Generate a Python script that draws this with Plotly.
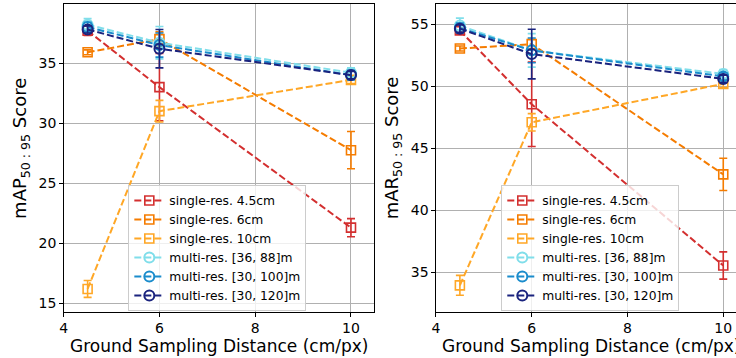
import plotly.graph_objects as go

gsd = [4.5, 6, 10]
x_ticks = [4, 6, 8, 10]

series_names = ["single-res. 4.5cm", "single-res. 6cm", "single-res. 10cm",
                "multi-res. [36, 88]m", "multi-res. [30, 100]m", "multi-res. [30, 120]m"]
series_colors = ["#d32f2f", "#f57c00", "#ffa726", "#80deea", "#1a8ccc", "#1a237e"]
series_symbols = ["square-open", "square-open", "square-open",
                  "circle-open", "circle-open", "circle-open"]

# mAP 50:95 (left)
map_red = [37.7, 33.0, 21.3]
map_red_err = [0.4, 2.8, 0.75]
map_orange = [35.9, 37.0, 27.75]
map_orange_err = [0.2, 0.6, 1.55]
map_yellow = [16.2, 31.0, 33.6]
map_yellow_err = [0.7, 0.9, 0.3]
map_cyan = [38.2, 36.7, 34.2]
map_cyan_err = [0.5, 1.35, 0.4]
map_blue = [38.0, 36.5, 34.0]
map_blue_err = [0.4, 1.0, 0.4]
map_navy = [37.8, 36.2, 34.0]
map_navy_err = [0.3, 1.6, 0.3]

# mAR 50:95 (right)
mar_red = [54.5, 48.55, 35.55]
mar_red_err = [0.3, 3.4, 1.1]
mar_orange = [53.05, 53.4, 42.9]
mar_orange_err = [0.2, 0.4, 1.3]
mar_yellow = [33.95, 47.1, 50.2]
mar_yellow_err = [0.8, 0.7, 0.3]
mar_cyan = [54.9, 52.9, 51.0]
mar_cyan_err = [0.6, 1.35, 0.35]
mar_blue = [54.7, 52.9, 50.8]
mar_blue_err = [0.4, 1.0, 0.3]
mar_navy = [54.65, 52.6, 50.6]
mar_navy_err = [0.3, 2.0, 0.3]

map_vals = [map_red, map_orange, map_yellow, map_cyan, map_blue, map_navy]
map_errs = [map_red_err, map_orange_err, map_yellow_err, map_cyan_err, map_blue_err, map_navy_err]
mar_vals = [mar_red, mar_orange, mar_yellow, mar_cyan, mar_blue, mar_navy]
mar_errs = [mar_red_err, mar_orange_err, mar_yellow_err, mar_cyan_err, mar_blue_err, mar_navy_err]

FONT = "DejaVu Sans"
W, H = 736, 358
fig = go.Figure()

for panel, (vals, errs, xa, ya, lg) in enumerate([
        (map_vals, map_errs, "x", "y", "legend"),
        (mar_vals, mar_errs, "x2", "y2", "legend2")]):
    for i, name in enumerate(series_names):
        c = series_colors[i]
        is_circle = "circle" in series_symbols[i]
        fig.add_trace(go.Scatter(
            x=gsd, y=vals[i], name=name, xaxis=xa, yaxis=ya, legend=lg,
            mode="lines+markers",
            line=dict(color=c, width=2, dash="7px,3px"),
            marker=dict(symbol=series_symbols[i], size=10 if is_circle else 9,
                        color=c, line=dict(color=c, width=2 if is_circle else 1.6)),
            error_y=dict(type="data", array=errs[i], color=c, thickness=1.6, width=4),
        ))

axis_common = dict(showline=True, linecolor="black", linewidth=1, ticks="outside",
                   ticklen=3.5, tickwidth=1, tickcolor="black", showgrid=True,
                   gridcolor="#b0b0b0", gridwidth=1, zeroline=False,
                   tickfont=dict(family=FONT, size=14, color="black"))

legend_common = dict(xanchor="left", yanchor="top", y=(312 - 185) / 308,
                     bgcolor="rgba(255,255,255,0.8)", bordercolor="#cccccc", borderwidth=1,
                     font=dict(family=FONT, size=12.3, color="black"), itemwidth=30)

fig.update_layout(
    width=W, height=H,
    margin=dict(l=0, r=0, t=4, b=46),
    paper_bgcolor="white", plot_bgcolor="white",
    font=dict(family=FONT, color="black"),
    xaxis=dict(domain=[60 / W, 372 / W], range=[4, 10.48], tickvals=x_ticks,
               mirror=True, anchor="y", **axis_common),
    yaxis=dict(domain=[0, 1], range=[14.28, 39.92], tickvals=[15, 20, 25, 30, 35],
               mirror=True, anchor="x", **axis_common),
    xaxis2=dict(domain=[434.3 / W, 1], range=[4, 10.266], tickvals=x_ticks,
                mirror=True, anchor="y2", **axis_common),
    yaxis2=dict(domain=[0, 1], range=[31.8, 56.64], tickvals=[35, 40, 45, 50, 55],
                mirror=False, anchor="x2", **axis_common),
    legend=dict(x=125 / W, **legend_common),
    legend2=dict(x=500 / W, **legend_common),
    showlegend=True,
)

title_font = dict(family=FONT, size=17, color="black")
ytitle_font = dict(family=FONT, size=18, color="black")
fig.add_annotation(text="Ground Sampling Distance (cm/px)", xref="paper", yref="paper",
                   x=216 / W, y=(312 - 345.5) / 308, xanchor="center", yanchor="middle",
                   showarrow=False, font=title_font)
fig.add_annotation(text="Ground Sampling Distance (cm/px)", xref="paper", yref="paper",
                   x=590 / W, y=(312 - 345.5) / 308, xanchor="center", yanchor="middle",
                   showarrow=False, font=title_font)
fig.add_annotation(text="mAP<sub>50 : 95</sub> Score", xref="paper", yref="paper",
                   x=17 / W, y=(312 - 148) / 308, xanchor="center", yanchor="middle",
                   textangle=-90, showarrow=False, font=ytitle_font)
fig.add_annotation(text="mAR<sub>50 : 95</sub> Score", xref="paper", yref="paper",
                   x=391.5 / W, y=(312 - 148) / 308, xanchor="center", yanchor="middle",
                   textangle=-90, showarrow=False, font=ytitle_font)

fig.write_html("out.html")
